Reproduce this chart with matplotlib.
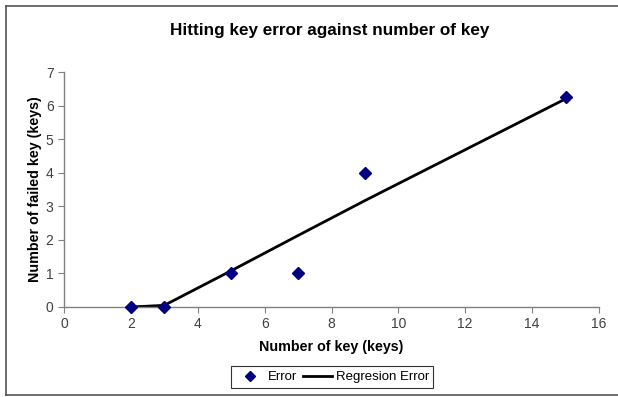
import matplotlib.pyplot as plt
from matplotlib.lines import Line2D

plt.rcParams['font.family'] = ['Liberation Sans', 'DejaVu Sans']

# data
keys = [2, 3, 5, 7, 9, 15]
errors = [0, 0, 1, 1, 4, 6.25]
reg_x = [2, 3, 5, 7, 9, 15]
reg_y = [0, 0.05, 1.08, 2.13, 3.17, 6.2]

x_ticks = [0, 2, 4, 6, 8, 10, 12, 14, 16]
y_ticks = [0, 1, 2, 3, 4, 5, 6, 7]

W, H = 618, 397
fig = plt.figure(figsize=(W / 100, H / 100), dpi=100)
ax = fig.add_axes([64 / W, 1 - 307 / H, (599 - 64) / W, (307 - 72) / H])

ax.plot(reg_x, reg_y, color="black", lw=2, label="Regresion Error", zorder=2)
ax.plot(keys, errors, ls="none", marker="D", ms=6.5, color="#000080",
        label="Error", zorder=3, clip_on=False)

ax.set_xlim(0, 16)
ax.set_ylim(0, 7)
ax.set_xticks(x_ticks)
ax.set_yticks(y_ticks)
ax.spines["top"].set_visible(False)
ax.spines["right"].set_visible(False)
for s in ("left", "bottom"):
    ax.spines[s].set_color("#808080")
    ax.spines[s].set_linewidth(1)
ax.tick_params(direction="out", length=4, color="#808080",
               labelsize=10, labelcolor="#404040")

ax.set_xlabel("Number of key (keys)", fontsize=10.3, fontweight="bold", labelpad=6)
ax.set_ylabel("Number of failed key (keys)", fontsize=10.3, fontweight="bold", labelpad=3)

fig.text(330 / W, 1 - 30 / H, "Hitting key error against number of key",
         ha="center", va="center", fontsize=12.3, fontweight="bold")

handles = [
    Line2D([], [], ls="none", marker="D", ms=5, color="#000080"),
    Line2D([], [], color="black", lw=2),
]
leg = fig.legend(handles, ["Error", "Regresion Error"], loc="center",
                 bbox_to_anchor=(332 / W, 1 - 377 / H), ncol=2, fontsize=9.5,
                 frameon=True, fancybox=False, edgecolor="black",
                 handlelength=2.2, handletextpad=0.3, columnspacing=0.4,
                 borderpad=0.35)
leg.get_frame().set_linewidth(0.8)

# chart area border (left, top, bottom visible)
border_kw = dict(color="#555555", lw=1.2, transform=fig.transFigure)
fig.add_artist(Line2D([6 / W, 6 / W], [1 - 6 / H, 1 - 395 / H], **border_kw))
fig.add_artist(Line2D([6 / W, 1], [1 - 6 / H, 1 - 6 / H], **border_kw))
fig.add_artist(Line2D([6 / W, 1], [1 - 395 / H, 1 - 395 / H], **border_kw))

fig.savefig("out.png", dpi=100)
